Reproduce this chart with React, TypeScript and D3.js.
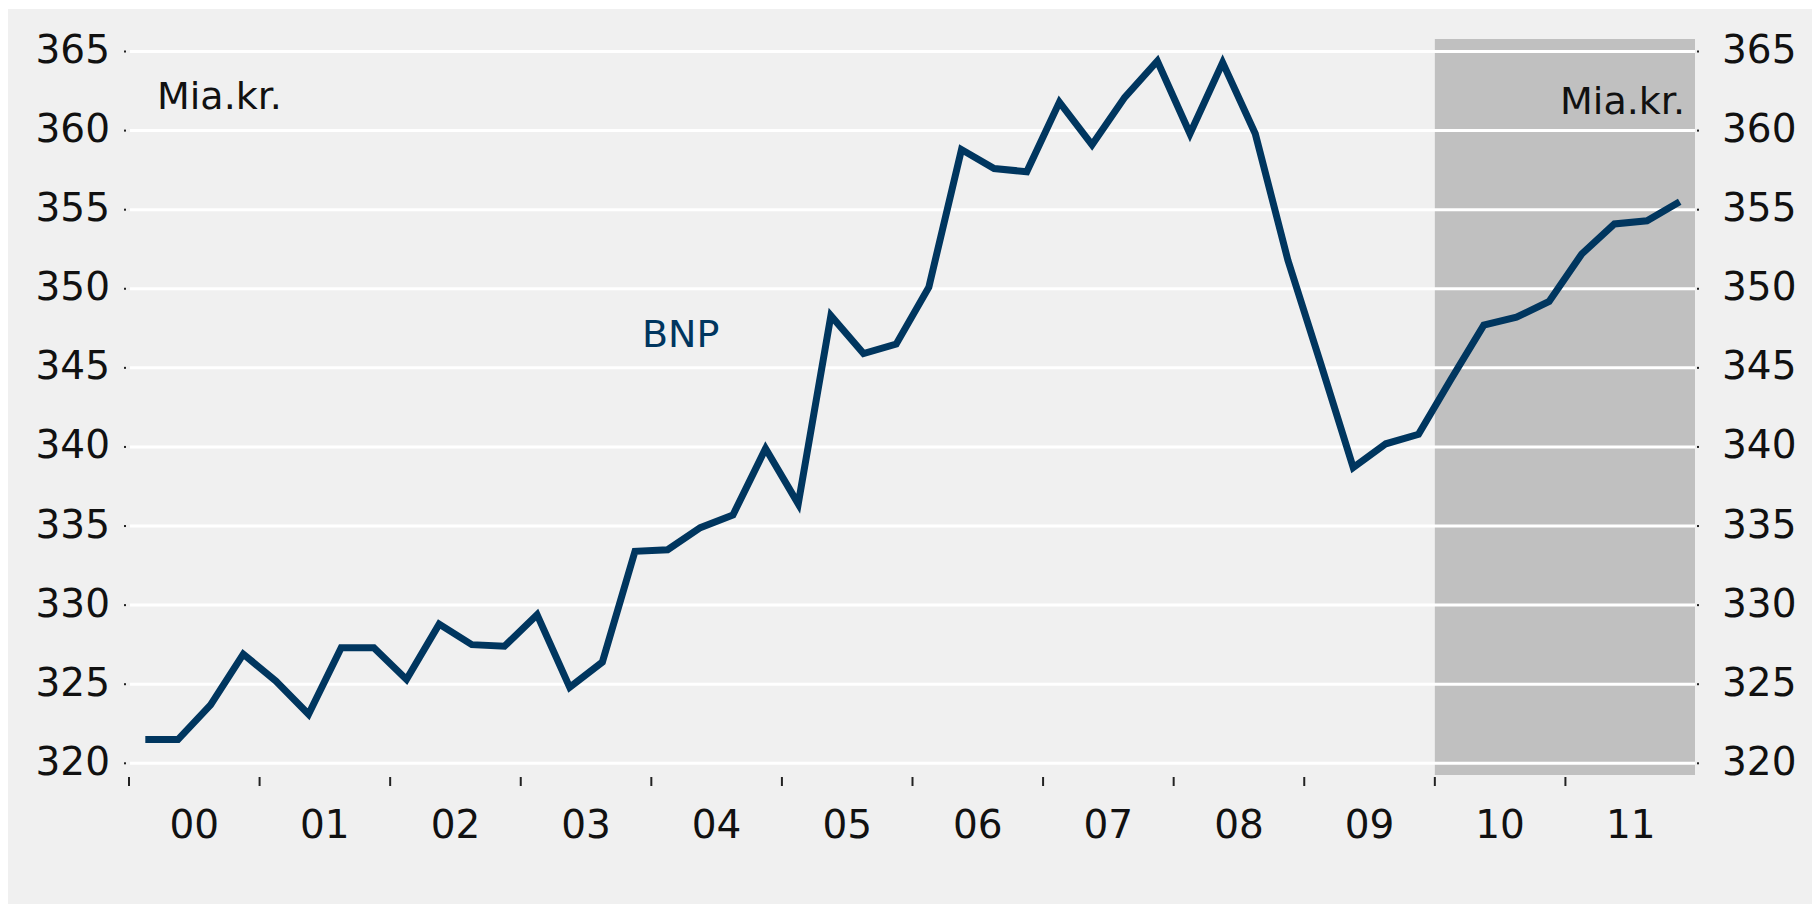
import React from "react";
import * as d3 from "d3";

const years = ["00", "01", "02", "03", "04", "05", "06", "07", "08", "09", "10", "11"];
const yTicks = [320, 325, 330, 335, 340, 345, 350, 355, 360, 365];
// Quarterly BNP (Mia. kr.), 2000Q1 - 2011Q4
const bnp = [
  321.5, 321.5, 323.7, 326.9,
  325.2, 323.1, 327.3, 327.3,
  325.3, 328.8, 327.5, 327.4,
  329.4, 324.8, 326.4, 333.4,
  333.5, 334.9, 335.7, 339.9,
  336.4, 348.3, 345.9, 346.5,
  350.1, 358.8, 357.6, 357.4,
  361.8, 359.1, 362.1, 364.4,
  359.8, 364.3, 359.8, 351.8,
  345.3, 338.7, 340.2, 340.8,
  344.3, 347.7, 348.2, 349.2,
  352.2, 354.1, 354.3, 355.5,
];
const shadeStart = 2010;
const shadeEnd = 2012;

const W = 1812;
const H = 904;
const FONT = "'DejaVu Sans', sans-serif";
const LINE = "#00365f";

export default function App() {
  const x = d3.scaleLinear().domain([2000, 2012]).range([129, 1696]);
  const y = d3.scaleLinear().domain([320, 365]).range([763.3, 51.5]);
  const pts = bnp.map((v, i) => [2000 + (i + 0.5) / 4, v] as [number, number]);
  const line = d3
    .line<[number, number]>()
    .x((d) => x(d[0]))
    .y((d) => y(d[1]));
  const yearStarts = years.map((_, i) => 2000 + i);

  return (
    <svg
      width={W}
      height={H}
      style={{ position: "absolute", left: 0, top: 0, background: "#fff" }}
    >
      <rect x={8} y={9} width={W - 8} height={H - 9} fill="#f0f0f0" />
      <rect
        x={x(shadeStart)}
        y={39}
        width={x(shadeEnd) - x(shadeStart) - 1}
        height={775 - 39}
        fill="#c0c0c0"
      />
      {yTicks.map((t) => (
        <g key={t}>
          <line
            x1={x(2000) + 1}
            x2={x(2012) - 1}
            y1={y(t)}
            y2={y(t)}
            stroke="#ffffff"
            strokeWidth={3}
          />
          <rect x={124} y={y(t) - 1} width={2} height={2} fill="#222" />
          <rect x={1697} y={y(t) - 1} width={2} height={2} fill="#222" />
          <text
            x={110}
            y={y(t) + 11.5}
            textAnchor="end"
            fontFamily={FONT}
            fontSize={39}
            fill="#111"
          >
            {t}
          </text>
          <text
            x={1722}
            y={y(t) + 11.5}
            textAnchor="start"
            fontFamily={FONT}
            fontSize={39}
            fill="#111"
          >
            {t}
          </text>
        </g>
      ))}
      {yearStarts.map((yr, i) => (
        <g key={yr}>
          <line
            x1={x(yr)}
            x2={x(yr)}
            y1={777}
            y2={786}
            stroke="#222"
            strokeWidth={2}
          />
          <text
            x={x(yr + 0.5)}
            y={838}
            textAnchor="middle"
            fontFamily={FONT}
            fontSize={39}
            fill="#111"
          >
            {years[i]}
          </text>
        </g>
      ))}
      <path
        d={line(pts) || ""}
        fill="none"
        stroke={LINE}
        strokeWidth={7}
        strokeLinejoin="miter"
        strokeMiterlimit={3}
      />
      <text x={157} y={109} fontFamily={FONT} fontSize={38} fill="#111">
        Mia.kr.
      </text>
      <text
        x={1685}
        y={114}
        textAnchor="end"
        fontFamily={FONT}
        fontSize={38}
        fill="#111"
      >
        Mia.kr.
      </text>
      <text x={642} y={347} fontFamily={FONT} fontSize={38} fill={LINE}>
        BNP
      </text>
    </svg>
  );
}
